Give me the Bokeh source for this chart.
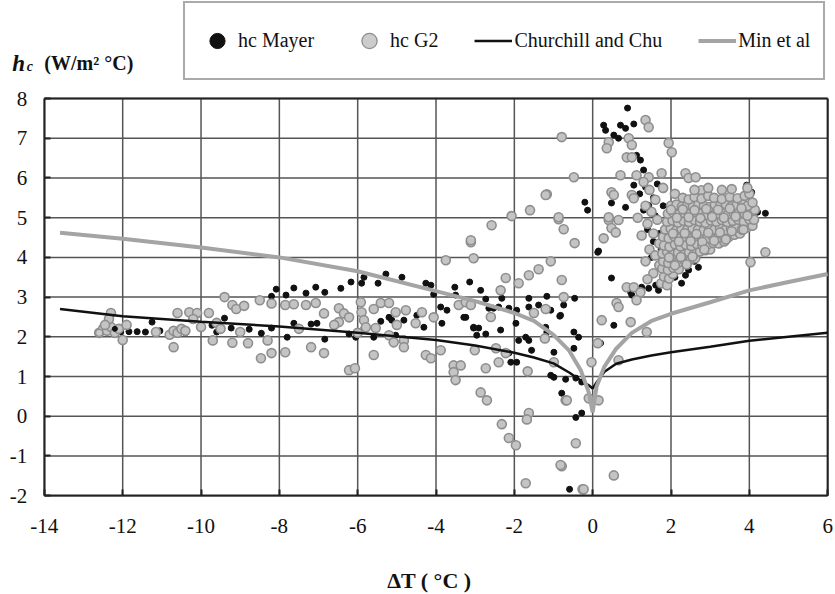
from bokeh.plotting import figure
from bokeh.models import FixedTicker, Legend, LegendItem, Label, Range1d
from bokeh.embed import file_html
from bokeh.resources import INLINE

# ---------------- data ----------------
x_ticks = [-14, -12, -10, -8, -6, -4, -2, 0, 2, 4, 6]
y_ticks = [-2, -1, 0, 1, 2, 3, 4, 5, 6, 7, 8]

# correlation curves
curve_dt = [-13.6, -12, -10, -8, -6, -4, -3, -2, -1.5, -1, -0.6, -0.3, -0.1, 0,
            0.1, 0.3, 0.6, 1, 1.5, 2, 3, 4, 5, 6]
churchill_hc = [2.70, 2.52, 2.38, 2.26, 2.10, 1.92, 1.78, 1.60, 1.48, 1.33, 1.10, 0.90, 0.78, 0.70,
                0.85, 1.12, 1.32, 1.43, 1.53, 1.61, 1.75, 1.90, 2.00, 2.10]
min_hc = [4.62, 4.47, 4.25, 4.00, 3.65, 3.15, 2.90, 2.60, 2.40, 2.05, 1.65, 1.15, 0.60, 0.10,
          0.75, 1.25, 1.70, 2.10, 2.40, 2.58, 2.87, 3.17, 3.38, 3.58]

# hc Mayer (black dots)
mayer_x = [-12.2, -12.05, -11.84, -11.63, -11.42, -11.25, -11.05, -10.4, -9.72, -9.6, -9.4, -9.23,
           -8.77, -8.46, -8.2, -8.2, -8.08, -7.8,
           -7.83, -7.63, -7.32, -7.07, -6.84, -6.43, -6.17, -5.84, -5.9, -5.48, -5.28, -4.87,
           -4.26, -4.13, -4.06, -3.52, -3.14, -3.88, -3.72, -3.85, -3.04, -3.37, -3.24,
           -7.63, -7.19, -7.04, -6.84, -6.22, -6.05, -5.84, -5.59, -5.41, -5.2, -5.13, -5.03,
           -4.82, -4.49, -4.31,
           -2.86, -3.5, -3.29, -2.73, -2.65, -2.53, -2.4, -2.32, -2.14, -1.94, -1.63, -1.63,
           -1.38, -1.17, -1.07, -0.74, -0.84, -0.46, -3.04, -2.91, -2.96, -2.73, -2.35, -1.96,
           -1.89, -1.71, -1.63, -1.56, -1.2, -1.17, -0.99, -0.48, -0.36, -0.48, -2.14, -2.09,
           -1.94, -1.07, -0.99, -0.69, -0.43, -0.28, -0.79, -0.43, -0.28, -0.59, -0.82,
           -0.2, -0.13, 0.13,
           0.89, 0.28, 0.33, 0.71, 0.84, 1.05, 0.54, 0.66, 1.12, 1.22, 1.05, 1.35, 0.48, 0.84,
           1.3, 1.43, 0.15, 0.48, 0.97, 0.54, 0.2, 0.66, 1.0, 2.19, 2.45, 2.37, 2.27, 1.25,
           1.43, 1.61, 1.68, 3.93, 4.06, 4.41, 3.55, 3.52, 4.21,
           1.3, 1.45, 1.55, 1.6, 1.4, 1.55, 1.7, 1.5, 1.75, 1.8, 2.0, 1.9, 2.1, 2.6, 2.7,
           2.9, 3.2, 1.65, 1.2, 1.8]
mayer_y = [2.2, 2.12, 2.13, 2.13, 2.12, 2.37, 2.15, 2.1, 2.29, 2.12, 2.47, 2.22,
           2.19, 2.09, 2.22, 3.02, 3.2, 1.99,
           3.05, 3.23, 3.1, 3.25, 3.12, 3.22, 3.38, 3.5, 3.35, 3.35, 3.58, 3.5,
           3.35, 3.3, 3.07, 3.25, 3.38, 2.75, 2.67, 2.34, 2.22, 2.8, 2.49,
           2.34, 2.32, 2.34, 1.94, 2.07, 1.99, 2.22, 1.99, 2.39, 2.49, 2.42, 2.04,
           2.42, 2.54, 2.24,
           3.17, 3.05, 2.49, 2.95, 2.72, 2.72, 2.75, 2.97, 2.72, 2.67, 2.97, 2.75,
           2.8, 3.02, 2.67, 2.8, 2.52, 2.97, 2.24, 2.22, 2.04, 2.07, 2.17, 2.34,
           1.91, 1.99, 1.91, 1.66, 2.24, 2.12, 1.61, 2.12, 1.99, 1.71, 1.59, 1.36,
           1.36, 1.03, 0.98, 0.93, 0.96, 0.86, 0.58, -0.03, 0.08, -1.84, 2.54,
           5.39, 5.19, 4.13,
           7.76, 7.33, 7.2, 7.33, 7.25, 7.36, 7.08, 7.0, 6.57, 6.45, 5.82, 5.77, 5.37, 5.26,
           5.19, 5.31, 4.16, 3.48, 3.12, 2.29, 1.84, 2.75, 3.05, 3.8, 3.68, 3.55, 3.35, 3.25,
           3.22, 3.3, 3.17, 5.82, 5.64, 5.11, 4.56, 5.49, 5.14,
           6.2, 6.05, 5.5, 5.05, 4.7, 4.4, 4.6, 4.0, 4.2, 3.9, 4.1, 3.6, 3.5, 3.9, 3.75,
           4.2, 4.4, 5.85, 5.6, 5.3]

# hc G2 (grey circles)
g2_x = [-12.6, -12.5, -12.4, -12.3, -12.2, -12.1, -12.3, -12.35, -12.0, -11.15, -10.8, -10.7,
        -10.6, -10.5, -10.4, -10.6, -10.3, -10.1, -10.7, -10.2, -10.0, -9.8, -9.7, -9.2, -9.0,
        -8.8, -9.4, -9.2, -9.1, -8.9, -8.5, -8.2, -8.3, -8.47, -8.2, -7.85, -7.85, -9.6, -9.5,
        -11.9, -12.45,
        -7.63, -7.32, -7.07, -6.86, -6.48, -6.35, -6.22, -6.48, -5.92, -5.9, -5.84, -5.79,
        -5.59, -5.41, -5.2, -5.03, -5.54, -5.2, -5.08, -4.82, -4.82, -4.77, -4.52, -4.36,
        -4.26, -4.13, -4.06, -3.88, -3.55, -3.37, -3.55, -7.19, -6.86, -6.22, -6.07, -5.59,
        -3.75, -3.04, -3.11, -3.42, -3.24, -3.11, -7.5, -6.6, -6.0, -5.0,
        -1.17, -1.6, -2.07, -0.87, -2.58, -0.74, -0.46, -3.11, -1.07, -2.22, -1.89, -1.63,
        -1.38, -2.35, -1.2, -1.22, -3.01, -2.47, -2.22, -3.5, -2.73, -2.4, -1.66, -0.99,
        -2.86, -2.7, -0.69, -1.63, -1.68, -2.32, -2.14, -1.96, -0.43, -0.79, -1.71, -0.26,
        -0.03, 0.13, -0.79, -0.48, -0.87, -0.79, -1.2, -0.74, -1.5, -2.6,
        0.41, 0.36, 1.35, 1.43, 0.92, 1.0, 1.94, 2.02, 0.87, 1.0, 0.71, 1.12, 1.43, 1.76,
        0.48, 0.54, 1.0, 1.05, 2.37, 2.45, 2.63, 2.78, 0.41, 0.66, 0.28, 0.48, 0.59, 0.87,
        1.05, 1.22, 1.12, 0.61, 0.66, 0.23, 0.97, 1.38, 0.66, -0.1, 0.15, -0.66, -0.82,
        0.54, -0.23, 4.03, 4.41, 0.41,
        1.3, 1.45, 1.6, 1.5, 1.65, 1.4, 1.55, 1.7, 1.45, 1.6, 1.7, 1.55, 1.4, 1.75, 1.9,
        1.35, 1.25, 1.8, 2.1, 1.15, 1.35,
        1.82, 1.95, 2.05,
        1.78, 1.92, 2.06, 2.2,
        1.8, 1.93, 2.07, 2.2, 2.35, 2.5, 2.62,
        1.78, 1.9, 2.04, 2.18, 2.32, 2.46, 2.6, 2.74, 2.88, 3.0,
        1.82, 1.96, 2.1, 2.24, 2.38, 2.52, 2.66, 2.8, 2.94, 3.08, 3.22, 3.36,
        1.8, 1.94, 2.08, 2.22, 2.36, 2.5, 2.64, 2.78, 2.92, 3.06, 3.2, 3.34, 3.48, 3.62, 3.76,
        1.85, 1.99, 2.13, 2.27, 2.41, 2.55, 2.69, 2.83, 2.97, 3.11, 3.25, 3.39, 3.53, 3.67,
        3.81, 3.95, 4.08,
        1.9, 2.04, 2.18, 2.32, 2.46, 2.6, 2.74, 2.88, 3.02, 3.16, 3.3, 3.44, 3.58, 3.72,
        3.86, 4.0, 4.12,
        1.92, 2.06, 2.2, 2.34, 2.48, 2.62, 2.76, 2.9, 3.04, 3.18, 3.32, 3.46, 3.6, 3.74,
        3.88, 4.02, 4.14,
        2.0, 2.14, 2.28, 2.42, 2.56, 2.7, 2.84, 2.98, 3.12, 3.26, 3.4, 3.54, 3.68, 3.82,
        3.96, 4.08,
        2.3, 2.45, 2.6, 2.78, 2.95, 3.1, 3.3, 3.5, 3.7, 3.88, 4.0,
        2.6, 2.95, 3.3, 3.55, 3.95,
        2.0, 2.3, 2.6, 2.9, 3.2, 3.5, 3.8, 2.15, 2.45, 2.75, 3.05, 3.35, 3.65, 3.95,
        2.05, 2.35, 2.65, 2.95, 3.25, 3.55, 3.85, 2.2, 2.5, 2.8, 3.1, 3.4,
        1.95, 2.25, 2.55, 2.85, 2.1, 2.4]
g2_y = [2.1, 2.2, 2.15, 2.25, 2.1, 2.2, 2.6, 2.45, 1.92, 2.12, 2.05, 2.15,
        2.1, 2.2, 2.15, 2.6, 2.62, 2.6, 1.74, 2.45, 2.25, 2.6, 1.91, 1.85, 2.12,
        1.84, 3.0, 2.8, 2.7, 2.78, 2.92, 2.84, 1.91, 1.46, 1.59, 1.61, 2.8, 2.35, 2.2,
        2.3, 2.3,
        2.82, 2.8, 2.85, 2.59, 2.72, 2.59, 2.49, 2.37, 2.87, 2.62, 2.42, 2.24,
        2.7, 2.85, 2.85, 2.62, 2.22, 2.04, 1.86, 1.91, 1.74, 2.67, 2.34, 2.62,
        1.54, 1.46, 2.49, 1.66, 1.28, 1.28, 1.11, 1.74, 1.59, 1.16, 1.21, 1.54,
        3.93, 3.98, 4.38, 2.8, 2.87, 2.8, 2.2, 2.3, 2.1, 2.3,
        5.59, 5.19, 5.04, 4.96, 4.81, 4.71, 4.36, 4.43, 3.9, 3.48, 3.35, 3.55,
        3.7, 3.17, 2.7, 1.96, 1.66, 1.71, 1.59, 0.91, 1.21, 1.36, 1.13, 1.36,
        0.6, 0.4, 0.4, 0.08, -0.08, -0.2, -0.55, -0.73, -0.68, -1.26, -1.69, -1.84,
        1.36, 1.84, 7.03, 6.02, 5.01, 3.43, 5.57, 3.0, 2.6, 2.5,
        6.9, 6.75, 7.46, 7.28, 7.0, 6.83, 6.88, 6.65, 6.52, 6.52, 6.07, 6.07, 6.02, 6.12,
        5.64, 5.57, 5.57, 5.49, 6.12, 6.0, 6.02, 5.69, 4.94, 4.94, 4.48, 4.74, 4.63, 3.25,
        3.25, 3.12, 2.92, 2.85, 2.75, 2.42, 2.37, 2.12, 1.41, 0.45, 0.4, 0.4, -1.23,
        -1.49, -1.84, 3.88, 4.13, 5.01,
        5.9, 5.7, 5.45, 5.15, 4.95, 4.85, 4.6, 4.35, 4.2, 4.05, 3.8, 3.6, 3.45, 3.35, 3.3,
        5.3, 4.55, 5.75, 5.6, 5.0, 3.9,
        3.52, 3.47, 3.58,
        3.72, 3.68, 3.74, 3.7,
        3.9, 3.86, 3.93, 3.88, 3.92, 3.95, 3.98,
        4.1, 4.14, 4.08, 4.12, 4.07, 4.13, 4.1, 4.15, 4.18, 4.2,
        4.3, 4.27, 4.33, 4.28, 4.32, 4.29, 4.34, 4.3, 4.33, 4.36, 4.35, 4.4,
        4.52, 4.48, 4.53, 4.49, 4.52, 4.47, 4.54, 4.5, 4.48, 4.53, 4.5, 4.55, 4.52, 4.57, 4.6,
        4.7, 4.73, 4.68, 4.72, 4.69, 4.74, 4.7, 4.67, 4.73, 4.7, 4.74, 4.69, 4.72, 4.75,
        4.7, 4.76, 4.8,
        4.9, 4.93, 4.88, 4.92, 4.89, 4.94, 4.9, 4.87, 4.93, 4.9, 4.94, 4.89, 4.92, 4.95,
        4.9, 4.96, 4.95,
        5.1, 5.13, 5.08, 5.12, 5.09, 5.14, 5.1, 5.07, 5.13, 5.1, 5.14, 5.09, 5.12, 5.15,
        5.1, 5.16, 5.2,
        5.3, 5.33, 5.28, 5.32, 5.29, 5.34, 5.3, 5.27, 5.33, 5.3, 5.34, 5.29, 5.32, 5.35,
        5.3, 5.38,
        5.5, 5.46, 5.52, 5.48, 5.55, 5.5, 5.47, 5.52, 5.49, 5.55, 5.6,
        5.7, 5.75, 5.7, 5.72, 5.75,
        5.2, 5.21, 5.19, 5.22, 5.2, 5.23, 5.24, 5.0, 5.01, 4.99, 5.02, 5.0, 5.03, 5.05,
        4.6, 4.61, 4.59, 4.62, 4.63, 4.66, 4.7, 4.4, 4.41, 4.39, 4.42, 4.45,
        4.0, 4.01, 4.02, 4.2, 3.8, 3.82]

legend_labels = ["hc Mayer", "hc G2", "Churchill and Chu", "Min et al"]
x_title = "\u0394T  ( \u00b0C )"
y_title = "(W/m\u00b2 \u00b0C)"

# ---------------- figure ----------------
SERIF = "Liberation Serif"
INK = "#111111"

# the frame covers the whole canvas; data area is x -14..6, y -2..8
p = figure(width=835, height=594, x_range=Range1d(-15.12, 6.2), y_range=Range1d(-4.49, 10.47),
           output_backend="svg", toolbar_location=None,
           min_border_left=0, min_border_right=0, min_border_top=0, min_border_bottom=0,
           background_fill_color="white", border_fill_color="white")
p.outline_line_color = None
p.xgrid.visible = False
p.ygrid.visible = False

# grid lines limited to the data area
x_lo, x_hi = x_ticks[0], x_ticks[-1]
y_lo, y_hi = y_ticks[0], y_ticks[-1]
p.segment(x0=x_ticks, y0=[y_lo] * len(x_ticks), x1=x_ticks, y1=[y_hi] * len(x_ticks),
          line_color="#555555", line_width=1.5)
p.segment(x0=[x_lo] * len(y_ticks), y0=y_ticks, x1=[x_hi] * len(y_ticks), y1=y_ticks,
          line_color="#555555", line_width=1.5)
# frame border (top and right)
p.segment(x0=[x_lo, x_hi], y0=[y_hi, y_lo], x1=[x_hi, x_hi], y1=[y_hi, y_hi],
          line_color="#222222", line_width=2)

for ax in (p.xaxis, p.yaxis):
    ax.axis_line_color = "#222222"
    ax.axis_line_width = 2
    ax.major_tick_in = 6
    ax.major_tick_out = 0
    ax.major_tick_line_color = "#222222"
    ax.major_tick_line_width = 2
    ax.minor_tick_line_color = None
    ax.major_label_text_font = SERIF
    ax.major_label_text_font_size = "21px"
    ax.major_label_text_color = INK

p.xaxis.ticker = FixedTicker(ticks=x_ticks)
p.yaxis.ticker = FixedTicker(ticks=y_ticks)
p.xaxis.bounds = (x_lo, x_hi)
p.yaxis.bounds = (y_lo, y_hi)
p.xaxis.fixed_location = y_lo
p.yaxis.fixed_location = x_lo
p.xaxis.major_label_overrides = {t: str(t) for t in x_ticks}
p.yaxis.major_label_overrides = {t: str(t) for t in y_ticks}
p.xaxis.major_label_standoff = 23
p.yaxis.major_label_standoff = 17

r_may = p.scatter(mayer_x, mayer_y, marker="circle", size=6,
                  fill_color=INK, line_color=INK)
r_g2 = p.scatter(g2_x, g2_y, marker="circle", size=9,
                 fill_color="#c4c4c4", line_color="#8e8e8e", line_width=1.6)
r_cc = p.line(curve_dt, churchill_hc, line_color=INK, line_width=2.5)
r_min = p.line(curve_dt, min_hc, line_color="#a4a4a4", line_width=4)

# smaller markers used as legend swatches (drawn on top of each series' first point)
leg_may = p.scatter(mayer_x[:1], mayer_y[:1], marker="circle", size=5,
                    fill_color=INK, line_color=INK)
leg_g2 = p.scatter(g2_x[:1], g2_y[:1], marker="circle", size=7, fill_color="#cccccc",
                   line_color="#8e8e8e", line_width=1.3)

legend = Legend(items=[LegendItem(label=legend_labels[0], renderers=[leg_may]),
                       LegendItem(label=legend_labels[1], renderers=[leg_g2]),
                       LegendItem(label=legend_labels[2], renderers=[r_cc]),
                       LegendItem(label=legend_labels[3], renderers=[r_min])],
                orientation="horizontal", location=(183, 514),
                label_text_font=SERIF, label_text_font_size="20px",
                label_text_color=INK,
                border_line_color="#555555", border_line_width=2,
                padding=13, spacing=36, glyph_width=38, glyph_height=49,
                label_height=20, label_standoff=2, margin=0)
p.add_layout(legend, "center")

# y-axis title at top-left
p.add_layout(Label(x=-14.82, y=8.89, text="h", text_baseline="alphabetic",
                   text_font=SERIF, text_font_style="bold italic", text_font_size="23px",
                   text_color=INK))
p.add_layout(Label(x=-14.45, y=8.80, text="c", text_baseline="alphabetic",
                   text_font=SERIF, text_font_style="bold italic", text_font_size="14px",
                   text_color=INK))
p.add_layout(Label(x=-14.0, y=8.89, text=y_title, text_baseline="alphabetic",
                   text_font=SERIF, text_font_style="bold", text_font_size="20px",
                   text_color=INK))
# x-axis title
p.add_layout(Label(x=-4.1, y=-4.13, text=x_title, text_align="center", text_baseline="middle",
                   text_font=SERIF, text_font_style="bold", text_font_size="22px",
                   text_color=INK))

open("out.html", "w").write(file_html(p, INLINE))
